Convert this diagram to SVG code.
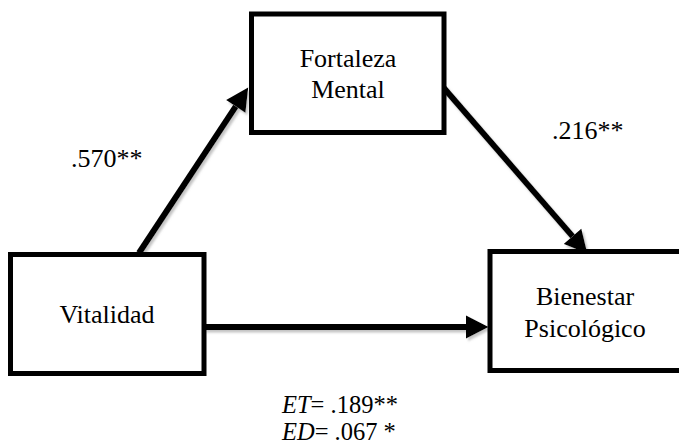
<svg xmlns="http://www.w3.org/2000/svg" width="679" height="445" viewBox="0 0 679 445">
  <style>
    .box { fill: #fff; stroke: #000; stroke-width: 5; }
    .t { font-family: "Liberation Serif", "Times New Roman", serif; font-size: 26px; fill: #000; }
    .s { font-size: 24.5px; }
    .c { text-anchor: middle; }
    .edge { stroke: #000; stroke-width: 6; fill: none; marker-end: url(#ah); }
  </style>
  <defs>
    <marker id="ah" markerUnits="userSpaceOnUse" markerWidth="24" markerHeight="24" viewBox="0 -12 23 24" refX="0" refY="0" orient="auto">
      <path d="M0,-11.5 L22.5,0 L0,11.5 z" fill="#000"/>
    </marker>
    <filter id="sh" x="-10%" y="-10%" width="130%" height="130%">
      <feDropShadow dx="2" dy="2.5" stdDeviation="0.8" flood-color="#888" flood-opacity="0.5"/>
    </filter>
  </defs>
  <rect width="679" height="445" fill="#fff"/>

  <g id="connectors" filter="url(#sh)">
    <line class="edge" x1="139" y1="253" x2="235.8" y2="106.3"/>
    <line class="edge" x1="443" y1="87" x2="572.6" y2="236.4"/>
    <line class="edge" x1="204" y1="327" x2="466" y2="327"/>
  </g>

  <g id="fortaleza">
    <rect class="box" x="251.5" y="14" width="192.5" height="118.5"/>
    <text class="t c" x="348" y="67">Fortaleza</text>
    <text class="t c" x="348" y="98">Mental</text>
  </g>
  <g id="vitalidad">
    <rect class="box" x="10.5" y="254.5" width="193.5" height="119"/>
    <text class="t c" x="107" y="323">Vitalidad</text>
  </g>
  <g id="bienestar">
    <rect class="box" x="490" y="251.5" width="195" height="119"/>
    <text class="t c" x="585" y="305">Bienestar</text>
    <text class="t c" x="585" y="337">Psicológico</text>
  </g>

  <g id="labels">
    <text class="t" x="71" y="167">.570**</text>
    <text class="t" x="552" y="139">.216**</text>
    <text class="t s" x="282" y="413"><tspan font-style="italic">ET</tspan>= .189**</text>
    <text class="t s" x="282" y="439.5"><tspan font-style="italic">ED</tspan>= .067 *</text>
  </g>
</svg>
